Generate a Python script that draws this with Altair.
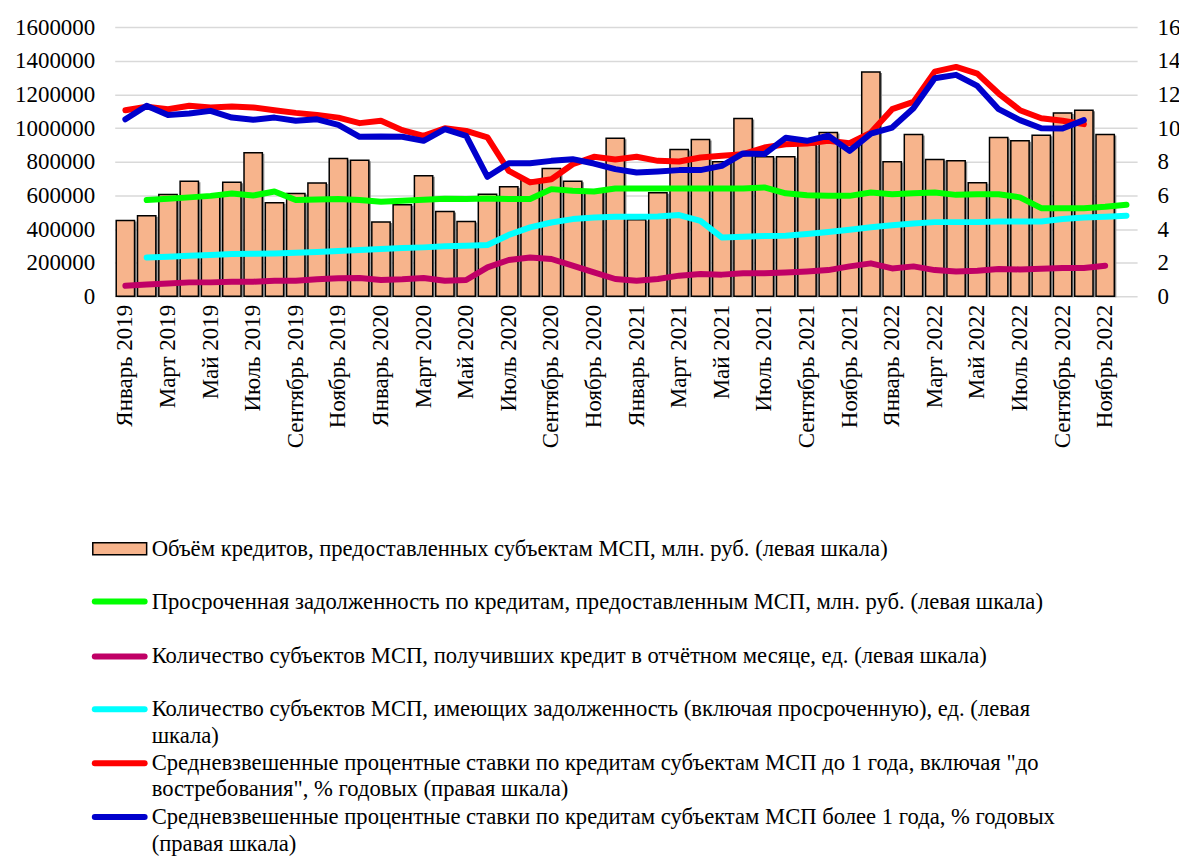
import altair as alt
import pandas as pd

month_names = ["Январь", "Февраль", "Март", "Апрель", "Май", "Июнь", "Июль",
               "Август", "Сентябрь", "Октябрь", "Ноябрь", "Декабрь"]
years = [2019, 2020, 2021, 2022]
months = [f"{m} {y}" for y in years for m in month_names]

# Объём кредитов (левая шкала), Jan 2019 .. Nov 2022
volume = [451000, 479000, 605000, 684000, 595000, 678000, 853000, 556000, 611000, 673000, 819000, 809000,
          441000, 544000, 716000, 504000, 445000, 607000, 651000, 690000, 760000, 684000, 620000, 940000,
          455000, 615000, 872000, 932000, 800000, 1056000, 829000, 829000, 900000, 973000, 900000, 1333000,
          799000, 961000, 813000, 805000, 675000, 944000, 924000, 957000, 1090000, 1106000, 961000, None]

# Просроченная задолженность (левая шкала), Feb 2019 .. Dec 2022
overdue = [None, 572000, 580000, 588000, 597000, 611000, 599000, 623000, 572000, 576000, 578000, 572000,
           562000, 568000, 574000, 580000, 578000, 582000, 578000, 578000, 637000, 627000, 623000, 641000,
           641000, 641000, 641000, 641000, 641000, 641000, 647000, 612000, 601000, 597000, 597000, 617000,
           607000, 613000, 617000, 603000, 607000, 607000, 588000, 524000, 524000, 524000, 532000, 544000]

# Количество субъектов, получивших кредит (левая шкала), Jan 2019 .. Nov 2022
borrowers = [63000, 71000, 77000, 83000, 83000, 87000, 87000, 93000, 93000, 101000, 107000, 109000,
             97000, 101000, 109000, 93000, 97000, 172000, 216000, 231000, 222000, 182000, 142000, 103000,
             93000, 103000, 123000, 133000, 129000, 137000, 137000, 142000, 148000, 156000, 178000, 196000,
             166000, 178000, 156000, 148000, 152000, 162000, 160000, 164000, 168000, 168000, 182000, None]

# Количество субъектов, имеющих задолженность (левая шкала), Feb 2019 .. Dec 2022
debtors = [None, 231000, 235000, 241000, 246000, 251000, 253000, 255000, 259000, 263000, 269000, 275000,
           281000, 287000, 291000, 297000, 301000, 305000, 365000, 410000, 439000, 459000, 469000, 473000,
           473000, 475000, 483000, 449000, 350000, 354000, 358000, 360000, 370000, 382000, 396000, 410000,
           423000, 433000, 441000, 441000, 441000, 445000, 445000, 445000, 459000, 469000, 473000, 479000]

# Ставки до 1 года (правая шкала), Jan 2019 .. Oct 2022
rate_short = [11.06, 11.26, 11.12, 11.32, 11.22, 11.28, 11.22, 11.06, 10.90, 10.78, 10.62, 10.29,
              10.43, 9.87, 9.54, 9.99, 9.83, 9.44, 7.46, 6.77, 6.96, 7.85, 8.29, 8.13,
              8.29, 8.05, 8.01, 8.25, 8.35, 8.45, 8.84, 9.04, 9.08, 9.24, 9.10, 9.73,
              11.12, 11.55, 13.35, 13.63, 13.23, 12.05, 11.06, 10.58, 10.43, 10.23, None, None]

# Ставки более 1 года (правая шкала), Jan 2019 .. Oct 2022
rate_long = [10.52, 11.32, 10.78, 10.86, 11.02, 10.62, 10.49, 10.62, 10.43, 10.52, 10.19, 9.48,
             9.50, 9.48, 9.24, 9.93, 9.54, 7.10, 7.91, 7.91, 8.05, 8.15, 7.89, 7.56,
             7.36, 7.42, 7.50, 7.50, 7.75, 8.49, 8.45, 9.42, 9.24, 9.54, 8.64, 9.67,
             10.03, 11.18, 12.96, 13.16, 12.50, 11.12, 10.47, 9.99, 9.97, 10.47, None, None]

label_months = months[::2]

legend_labels = [
    "Объём кредитов, предоставленных субъектам МСП, млн. руб. (левая шкала)",
    "Просроченная задолженность по кредитам, предоставленным МСП, млн. руб. (левая шкала)",
    "Количество субъектов МСП, получивших кредит в отчётном месяце, ед. (левая шкала)",
    "Количество субъектов МСП, имеющих задолженность (включая просроченную), ед. (левая",
    "шкала)",
    "Средневзвешенные процентные ставки по кредитам субъектам МСП до 1 года, включая \"до",
    "востребования\", % годовых (правая шкала)",
    "Средневзвешенные процентные ставки по кредитам субъектам МСП более 1 года, % годовых",
    "(правая шкала)",
]
legend_text_y = [523, 576, 631, 684, 711, 738, 764, 792, 819]
line_colors = ["#00FF00", "#C00066", "#00FFFF", "#FF0000", "#0000CC"]
line_sym_y = [576, 631, 684, 738, 792]

FONT = "Liberation Serif"
BAR_FILL = "#F7B48C"


def series_df(vals):
    return pd.DataFrame({"m": months, "v": vals}).dropna()


x_enc = alt.X("m:N", sort=months, title=None,
              scale=alt.Scale(paddingInner=0.14, paddingOuter=0.07),
              axis=alt.Axis(values=label_months, labelAngle=-90, labelFont=FONT, labelFontSize=23,
                            labelColor="black", labelPadding=8, ticks=False, domain=False, grid=False))

left_scale = alt.Scale(domain=[0, 1600000], nice=False)
right_scale = alt.Scale(domain=[0, 16], nice=False)

shadow = alt.Chart(series_df(volume)).mark_bar(
    color="#8C8C8C", xOffset=2, yOffset=1
).encode(
    x=alt.X("m:N", sort=months),
    y=alt.Y("v:Q", scale=left_scale, axis=None),
)

bars = alt.Chart(series_df(volume)).mark_bar(
    color=BAR_FILL, stroke="black", strokeWidth=1.5
).encode(
    x=x_enc,
    y=alt.Y("v:Q", scale=left_scale, title=None,
            axis=alt.Axis(orient="left", values=list(range(0, 1600001, 200000)), format="d",
                          labelFont=FONT, labelFontSize=23, labelColor="black", labelPadding=20,
                          ticks=False, domain=False, grid=True, gridColor="#D9D9D9", gridWidth=1.5)),
)


def line_layer(vals, color, scale, axis=None):
    return alt.Chart(series_df(vals)).mark_line(
        color=color, strokeWidth=6, strokeCap="round", strokeJoin="round"
    ).encode(
        x=alt.X("m:N", sort=months),
        y=alt.Y("v:Q", scale=scale, title=None, axis=axis),
    )


green = line_layer(overdue, "#00FF00", left_scale)
magenta = line_layer(borrowers, "#C00066", left_scale)
cyan = line_layer(debtors, "#00FFFF", left_scale)
red = line_layer(rate_short, "#FF0000", right_scale,
                 alt.Axis(orient="right", values=list(range(0, 17, 2)), labelFont=FONT, labelFontSize=23,
                          labelColor="black", labelPadding=20, ticks=False, domain=False, grid=False))
blue = line_layer(rate_long, "#0000CC", right_scale)

# legend
leg_text_df = pd.DataFrame({"t": legend_labels, "py": legend_text_y, "px": [37] * len(legend_labels)})
leg_text = alt.Chart(leg_text_df).mark_text(
    align="left", baseline="middle", font=FONT, fontSize=22.7, color="black"
).encode(
    x=alt.X("px:Q", scale=None), y=alt.Y("py:Q", scale=None), text="t:N"
)

leg_swatch = alt.Chart(pd.DataFrame({"x1": [-22], "x2": [32], "y1": [517], "y2": [529]})).mark_rect(
    color=BAR_FILL, stroke="black", strokeWidth=1.5
).encode(
    x=alt.X("x1:Q", scale=None), x2="x2:Q", y=alt.Y("y1:Q", scale=None), y2="y2:Q"
)

leg_lines_df = pd.DataFrame({"x1": [-20] * 5, "x2": [30] * 5, "py": line_sym_y, "c": line_colors})
leg_lines = alt.Chart(leg_lines_df).mark_rule(strokeWidth=6, strokeCap="round").encode(
    x=alt.X("x1:Q", scale=None), x2="x2:Q", y=alt.Y("py:Q", scale=None),
    color=alt.Color("c:N", scale=None)
)

chart = alt.layer(
    shadow, bars, green, magenta, cyan, red, blue, leg_swatch, leg_lines, leg_text
).resolve_scale(
    y="independent"
).properties(
    width=1025, height=270,
    autosize=alt.AutoSizeParams(type="none"),
    padding={"left": 107, "top": 18, "right": 42, "bottom": 562},
).configure_view(stroke=None)

chart.save("out.html", embed_options={"renderer": "svg", "actions": False})
